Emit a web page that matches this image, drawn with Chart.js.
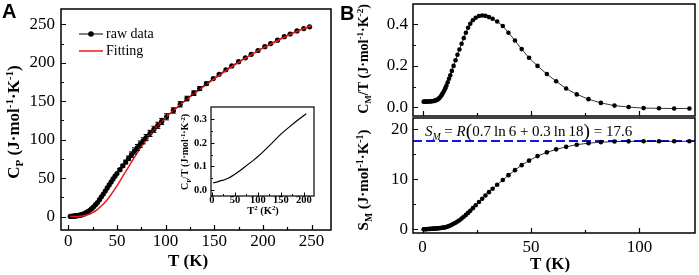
<!DOCTYPE html>
<html><head><meta charset="utf-8">
<script src="https://cdn.jsdelivr.net/npm/chart.js@4.4.0/dist/chart.umd.min.js"></script>
<style>
html,body{margin:0;padding:0;background:#fff;width:699px;height:275px;overflow:hidden;position:relative;}
canvas{position:absolute;}
.lab{position:absolute;font:bold 20px "Liberation Sans",Arial,sans-serif;line-height:20px;color:#000;z-index:5;}
</style></head><body>
<div class="lab" style="left:2px;top:1px">A</div>
<div class="lab" style="left:340px;top:3px">B</div>
<canvas id="cA" width="345" height="275" style="left:0;top:0"></canvas>
<canvas id="cI" width="150" height="120" style="left:170px;top:100px"></canvas>
<canvas id="cBt" width="349" height="120" style="left:350px;top:0"></canvas>
<canvas id="cBb" width="349" height="165" style="left:350px;top:110px"></canvas>
<script>
// ---------------- DATA ----------------
// Panel A: heat capacity raw data
const rawT = [2,3,4,5,6,7,8,9,10,11,12,13,14,15,16,17,18,19,20,
  22,24,26,28,30,32,34,36,38,40,42,44,46,48,50,
  53,56,59,62,65,68,71,74,77,80,
  84,88,92,96,
  101,108,115,122,129,135,142,149,155,162,168,175,182,188,195,202,208,215,222,228,235,242,248];
const rawCp = [0.2,0.3,0.4,0.5,0.6,0.8,0.9,1.1,1.3,1.5,1.8,2.1,2.5,2.9,3.4,3.9,4.7,5.5,6.4,
  8.2,10.3,12.7,15.4,18.3,22.0,25.6,29.3,33.2,37.2,41.2,45.1,48.9,52.5,56.0,
  61.0,66.0,70.9,75.8,80.6,85.3,89.8,94.2,98.5,102.7,
  108.2,113.5,118.7,123.7,
  129.8,138,146,153.5,160.5,166.5,173,179.5,185,191,196,201.5,206.5,211,216,221,225,229.5,234,237.5,241.5,244.5,246.8];
const rawErr = [0,0,0,0,0,0,0,0,0,0,0,0,0,0,0,0,0,0,0,
  0,0,0,0,0,0,0,0,0,0,0,0,0,0,0,
  1.5,2,2.5,3,3.5,4,4,4,4,4,
  4,4,4,4,
  4,3.5,3.5,3,3,2.5,2,0,0,0,0,0,0,0,0,0,0,0,0,0,0,0,0];
// Panel A: fitting curve
const fitT  = [2,5,10,15,20,25,30,35,40,45,50,55,60,65,70,75,80,85,90,95,100,110,120,130,140,150,160,170,180,190,200,210,220,230,240,250];
const fitCp = [0,0,0.2,0.8,2.3,5,9.3,15,21.8,30.5,40,50.2,60.6,71,81.2,90.8,99.6,107.8,115.3,122.2,128.6,140,150.5,160.5,170,179,188,196.5,204.5,212,219,225.5,232,238,243.5,248.5];
// Panel A inset: Cp/T vs T^2
const insT2 = [2,5,10,15,20,25,30,35,40,50,60,70,80,90,100,110,120,130,140,150,160,170,180,190,200,205];
const insCpT = [0.031,0.032,0.034,0.037,0.040,0.042,0.046,0.050,0.055,0.067,0.081,0.096,0.111,0.126,0.142,0.160,0.179,0.198,0.218,0.237,0.254,0.270,0.286,0.301,0.316,0.323];
// Panel B: magnetic heat capacity and entropy
const bT = [0.5,1,1.5,2,2.5,3,3.5,4,4.5,5,5.5,6,6.5,7,7.5,8,
  8.5,9,9.5,10,10.5,11,
  11.6,12.2,12.8,13.5,14.3,15.2,16.1,17,
  18,19,20,21,22,
  23.2,24.5,26,27.5,29,30.6,32.3,34.4,
  37,39.6,42.6,45.7,49.1,53,57.3,61.6,66.2,71.1,76.5,82.2,88.5,95,101.9,109,116,123];
const bCmT = [0.028,0.028,0.028,0.028,0.029,0.029,0.029,0.030,0.030,0.031,0.032,0.034,0.036,0.039,0.043,0.048,
  0.055,0.063,0.072,0.082,0.093,0.105,
  0.121,0.138,0.155,0.176,0.200,0.227,0.254,0.279,
  0.307,0.334,0.360,0.384,0.403,
  0.420,0.432,0.440,0.443,0.441,0.435,0.427,0.414,
  0.392,0.360,0.322,0.281,0.239,0.200,0.161,0.126,0.091,0.063,0.040,0.022,0.009,0.002,-0.003,-0.004,-0.005,-0.005];
const bSm = [0.01,0.02,0.03,0.05,0.06,0.08,0.09,0.11,0.12,0.14,0.15,0.17,0.19,0.21,0.23,0.25,
  0.28,0.31,0.34,0.38,0.42,0.47,
  0.58,0.68,0.78,0.92,1.1,1.32,1.56,1.82,
  2.14,2.5,2.88,3.28,3.7,
  4.22,4.8,5.45,6.1,6.75,7.42,8.1,8.9,
  9.85,10.8,11.8,12.8,13.7,14.6,15.35,15.95,16.45,16.88,17.18,17.38,17.5,17.54,17.55,17.55,17.55,17.55];
const smLimit = 17.6;
// tick values / labels
const aXTicks = [0,50,100,150,200,250], aXLabels = ['0','50','100','150','200','250'];
const aYTicks = [0,50,100,150,200,250], aYLabels = ['0','50','100','150','200','250'];
const iXTicks = [0,50,100,150,200], iXLabels = ['0','50','100','150','200'];
const iYTicks = [0,0.1,0.2,0.3], iYLabels = ['0.0','0.1','0.2','0.3'];
const bXTicks = [0,50,100], bXLabels = ['0','50','100'];
const btYTicks = [0,0.2,0.4], btYLabels = ['0.0','0.2','0.4'];
const bbYTicks = [0,10,20], bbYLabels = ['0','10','20'];

// ---------------- HELPERS ----------------
const FONT = '"Liberation Serif","Times New Roman",serif';
const pts = (xs, ys) => xs.map((x, i) => ({x, y: ys[i]}));

function drawRich(ctx, t) {
  const size = t.size, bold = t.bold;
  const f = s => (s.i ? 'italic ' : '') + (bold ? 'bold ' : '') + (s.s ? size * 0.65 : size * (s.k || 1)) + 'px ' + FONT;
  let w = 0; const ws = [];
  for (const s of t.segs) { ctx.font = f(s); const m = ctx.measureText(s.t).width; ws.push(m); w += m; }
  ctx.save();
  ctx.translate(t.x, t.y);
  if (t.rot) ctx.rotate(t.rot * Math.PI / 180);
  let x = t.align === 'left' ? 0 : -w / 2;
  ctx.fillStyle = t.color || '#000'; ctx.textAlign = 'left'; ctx.textBaseline = 'alphabetic';
  const base = size * 0.34;
  t.segs.forEach((s, i) => {
    ctx.font = f(s);
    const dy = s.s === 'sub' ? size * 0.25 : s.s === 'sup' ? -size * 0.36 : (s.k ? size * (s.k - 1) * 0.3 : 0);
    ctx.fillText(s.t, x, base + dy);
    x += ws[i];
  });
  ctx.restore();
}

const framePlugin = {
  id: 'frame',
  beforeDraw(chart, args, o) {
    if (o.fill) { const a = chart.chartArea, c = chart.ctx; c.save(); c.fillStyle = '#fff'; c.fillRect(a.left, a.top, a.right - a.left, a.bottom - a.top); c.restore(); }
  },
  afterDraw(chart, args, o) {
    const c = chart.ctx, a = chart.chartArea, xs = chart.scales.x, ys = chart.scales.y;
    c.save();
    c.strokeStyle = '#000';
    c.lineWidth = o.tw || 1.2;
    c.beginPath();
    (o.xMajor || []).forEach(v => { const p = Math.round(xs.getPixelForValue(v)) + 0.5; c.moveTo(p, a.bottom); c.lineTo(p, a.bottom - o.maj); });
    (o.xMinor || []).forEach(v => { const p = Math.round(xs.getPixelForValue(v)) + 0.5; c.moveTo(p, a.bottom); c.lineTo(p, a.bottom - o.min); });
    (o.yMajor || []).forEach(v => { const p = Math.round(ys.getPixelForValue(v)) + 0.5; c.moveTo(a.left, p); c.lineTo(a.left + o.maj, p); });
    (o.yMinor || []).forEach(v => { const p = Math.round(ys.getPixelForValue(v)) + 0.5; c.moveTo(a.left, p); c.lineTo(a.left + o.min, p); });
    c.stroke();
    c.lineWidth = o.lw || 1.5;
    c.strokeRect(a.left, a.top, a.right - a.left, a.bottom - a.top);
    (o.texts || []).forEach(t => drawRich(c, t));
    c.restore();
  }
};
Chart.register(framePlugin);

function axis(min, max, tickVals, labels, opt) {
  return {
    type: 'linear', min, max,
    grid: {display: false, drawTicks: false},
    border: {display: false},
    afterBuildTicks: s => { s.ticks = tickVals.map(v => ({value: v})); },
    ticks: {
      display: opt.show !== false, autoSkip: false, maxRotation: 0, minRotation: 0,
      padding: opt.pad || 0, color: '#000',
      font: {family: FONT, size: opt.size || 17, weight: opt.bold ? 'bold' : 'normal'},
      callback: (v, i) => labels[i]
    },
    afterFit: s => {
      if (opt.w != null) s.width = opt.w;
      if (opt.h != null) s.height = opt.h;
      s.paddingTop = 0; s.paddingBottom = 0; s.paddingLeft = 0; s.paddingRight = 0;
    }
  };
}

const baseOpts = (pad) => ({
  responsive: false, animation: false, devicePixelRatio: 1,
  layout: {padding: pad},
  plugins: {legend: {display: false}, tooltip: {enabled: false}},
  elements: {line: {tension: 0}}
});

// ---------------- PANEL A ----------------
const errPlugin = {
  id: 'errA',
  afterDatasetsDraw(chart) {
    const c = chart.ctx, xs = chart.scales.x, ys = chart.scales.y;
    c.save(); c.strokeStyle = '#000'; c.lineWidth = 1;
    c.beginPath();
    rawT.forEach((t, i) => {
      const e = rawErr[i]; if (!e) return;
      const px = xs.getPixelForValue(t), y1 = ys.getPixelForValue(rawCp[i] - e), y2 = ys.getPixelForValue(rawCp[i] + e);
      c.moveTo(px, y1); c.lineTo(px, y2);
      c.moveTo(px - 2.5, y1); c.lineTo(px + 2.5, y1);
      c.moveTo(px - 2.5, y2); c.lineTo(px + 2.5, y2);
    });
    c.stroke();
    // legend
    c.lineWidth = 1; c.strokeStyle = '#000';
    c.beginPath(); c.moveTo(79, 34); c.lineTo(103, 34); c.stroke();
    c.fillStyle = '#000'; c.beginPath(); c.arc(91, 34, 2.8, 0, Math.PI * 2); c.fill();
    c.strokeStyle = 'rgb(235,25,25)'; c.lineWidth = 1.5;
    c.beginPath(); c.moveTo(79, 51); c.lineTo(103, 51); c.stroke();
    c.fillStyle = '#000'; c.font = '14px ' + FONT; c.textBaseline = 'middle'; c.textAlign = 'left';
    c.fillText('raw data', 106, 34);
    c.fillText('Fitting', 106, 51);
    c.restore();
  }
};

const optA = baseOpts({top: 9, right: 14, left: 0, bottom: 0});
optA.scales = {
  x: axis(-7.5, 270, aXTicks, aXLabels, {h: 45, pad: 1, size: 17}),
  y: axis(-17.5, 270, aYTicks, aYLabels, {w: 61, pad: 6, size: 17})
};
optA.plugins.frame = {
  maj: 5, min: 3,
  xMajor: aXTicks, xMinor: [25, 75, 125, 175, 225],
  yMajor: aYTicks, yMinor: [25, 75, 125, 175, 225],
  texts: [
    {segs: [{t: 'C'}, {t: 'P', s: 'sub'}, {t: ' (J·mol'}, {t: '-1', s: 'sup'}, {t: '·K'}, {t: '-1', s: 'sup'}, {t: ')'}], x: 13, y: 122, size: 17, bold: true, rot: -90},
    {segs: [{t: 'T (K)'}], x: 188, y: 260, size: 17, bold: true}
  ]
};
new Chart(document.getElementById('cA'), {
  type: 'line',
  data: {datasets: [
    {data: pts(fitT, fitCp), borderColor: 'rgb(235,25,25)', borderWidth: 1.5, pointRadius: 0, cubicInterpolationMode: 'monotone', order: 0},
    {data: pts(rawT, rawCp), borderColor: '#000', borderWidth: 1, pointRadius: 2.6, pointBackgroundColor: '#000', pointBorderWidth: 0, order: 1}
  ]},
  options: optA,
  plugins: [errPlugin]
});

// ---------------- INSET ----------------
const optI = baseOpts({top: 7, right: 6, left: 0, bottom: 0});
optI.scales = {
  x: axis(-2, 222, iXTicks, iXLabels, {h: 24, pad: -2, size: 10.5, bold: true}),
  y: axis(-0.025, 0.352, iYTicks, iYLabels, {w: 41, pad: 4, size: 10.5, bold: true})
};
optI.plugins.frame = {
  fill: true, lw: 1.2, tw: 1, maj: 3.5, min: 2,
  xMajor: iXTicks, xMinor: [25, 75, 125, 175],
  yMajor: iYTicks, yMinor: [0.05, 0.15, 0.25],
  texts: [
    {segs: [{t: 'C'}, {t: 'P', s: 'sub'}, {t: '/T (J·mol'}, {t: '-1', s: 'sup'}, {t: '·K'}, {t: '-2', s: 'sup'}, {t: ')'}], x: 15, y: 52, size: 10, bold: true, rot: -90},
    {segs: [{t: 'T'}, {t: '2', s: 'sup'}, {t: ' (K'}, {t: '2', s: 'sup'}, {t: ')'}], x: 93, y: 110, size: 10.5, bold: true}
  ]
};
new Chart(document.getElementById('cI'), {
  type: 'line',
  data: {datasets: [
    {data: pts(insT2, insCpT), borderColor: '#000', borderWidth: 1.2, pointRadius: 0}
  ]},
  options: optI
});

// ---------------- PANEL B TOP ----------------
const optBt = baseOpts({top: 3, right: 3, left: 0, bottom: 0});
optBt.scales = {
  x: axis(-4.4, 125.6, bXTicks, bXLabels, {h: 2, show: false}),
  y: axis(-0.041, 0.498, btYTicks, btYLabels, {w: 63, pad: 5, size: 17})
};
optBt.plugins.frame = {
  maj: 5, min: 3,
  xMajor: bXTicks, xMinor: [25, 75],
  yMajor: btYTicks, yMinor: [0.1, 0.3],
  texts: [
    {segs: [{t: 'C'}, {t: 'M', s: 'sub'}, {t: '/T (J·mol'}, {t: '-1', s: 'sup'}, {t: '·K'}, {t: '-2', s: 'sup'}, {t: ')'}], x: 13, y: 59, size: 14, bold: true, rot: -90}
  ]
};
new Chart(document.getElementById('cBt'), {
  type: 'line',
  data: {datasets: [
    {data: pts(bT, bCmT), borderColor: '#000', borderWidth: 0.8, pointRadius: 2.3, pointBackgroundColor: '#000', pointBorderWidth: 0}
  ]},
  options: optBt
});

// ---------------- PANEL B BOTTOM ----------------
const optBb = baseOpts({top: 8, right: 3, left: 0, bottom: 0});
optBb.scales = {
  x: axis(-4.4, 125.6, bXTicks, bXLabels, {h: 42, pad: 4, size: 17}),
  y: axis(-0.73, 22.2, bbYTicks, bbYLabels, {w: 63, pad: 5, size: 17})
};
optBb.plugins.frame = {
  maj: 5, min: 3,
  xMajor: bXTicks, xMinor: [25, 75],
  yMajor: bbYTicks, yMinor: [5, 15],
  texts: [
    {segs: [{t: 'S'}, {t: 'M', s: 'sub'}, {t: ' (J·mol'}, {t: '-1', s: 'sup'}, {t: '·K'}, {t: '-1', s: 'sup'}, {t: ')'}], x: 13, y: 70, size: 15, bold: true, rot: -90},
    {segs: [{t: 'T (K)'}], x: 200, y: 153, size: 17, bold: true},
    {segs: [{t: 'S', i: true}, {t: 'M', s: 'sub', i: true}, {t: ' = '}, {t: 'R', i: true}, {t: '(', k: 1.3}, {t: '0.7\u2009ln\u20096 + 0.3\u2009ln\u200918'}, {t: ')', k: 1.3}, {t: ' = 17.6'}], x: 75, y: 21, size: 15, align: 'left'}
  ]
};
new Chart(document.getElementById('cBb'), {
  type: 'line',
  data: {datasets: [
    {data: [{x: -4.4, y: smLimit}, {x: 125.6, y: smLimit}], borderColor: 'rgb(20,20,230)', borderWidth: 2, borderDash: [9, 4], pointRadius: 0, order: 2},
    {data: pts(bT, bSm), borderColor: '#000', borderWidth: 0.8, pointRadius: 2.3, pointBackgroundColor: '#000', pointBorderWidth: 0, order: 1}
  ]},
  options: optBb
});
</script>
</body></html>
